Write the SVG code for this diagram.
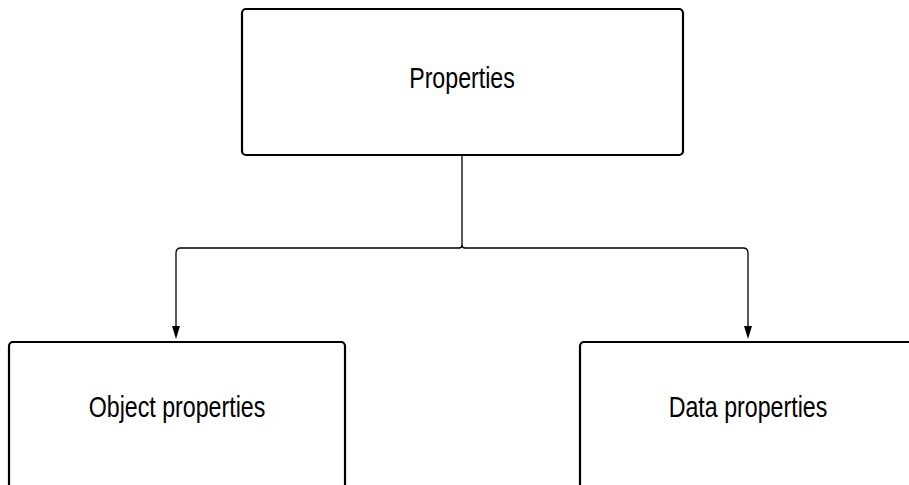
<svg xmlns="http://www.w3.org/2000/svg" width="909" height="485" viewBox="0 0 909 485">
  <style>
    .box { fill: #ffffff; stroke: #000000; stroke-width: 2.2; }
    .label { font-family: "Liberation Sans", Arial, sans-serif; font-size: 29px; fill: #000000; text-anchor: middle; }
    .wire { fill: none; stroke: #000000; stroke-width: 1.3; }
    .head { fill: #000000; }
  </style>
  <rect width="909" height="485" fill="#ffffff"/>

  <g id="connectors">
    <!-- trunk from Properties down to the split, then one branch per child -->
    <path class="wire" d="M462,156 L462,245 Q462,248 459,248 L181,248 Q176,248 176,253 L176,328"/>
    <path class="wire" d="M462,245 Q462,248 465,248 L743,248 Q748,248 748,253 L748,328"/>
    <path class="head" d="M172,326 L180,326 L176,339 Z"/>
    <path class="head" d="M744,326 L752,326 L748,339 Z"/>
  </g>

  <g id="node-properties">
    <rect class="box" x="242" y="9" width="441" height="146" rx="4"/>
    <text class="label" transform="translate(462 88) scale(0.8 1)">Properties</text>
  </g>

  <g id="node-object-properties">
    <rect class="box" x="9" y="342" width="336" height="150" rx="4"/>
    <text class="label" transform="translate(177 417) scale(0.8 1)">Object properties</text>
  </g>

  <g id="node-data-properties">
    <rect class="box" x="580" y="342" width="336" height="150" rx="4"/>
    <text class="label" transform="translate(748 417) scale(0.8 1)">Data properties</text>
  </g>
</svg>
